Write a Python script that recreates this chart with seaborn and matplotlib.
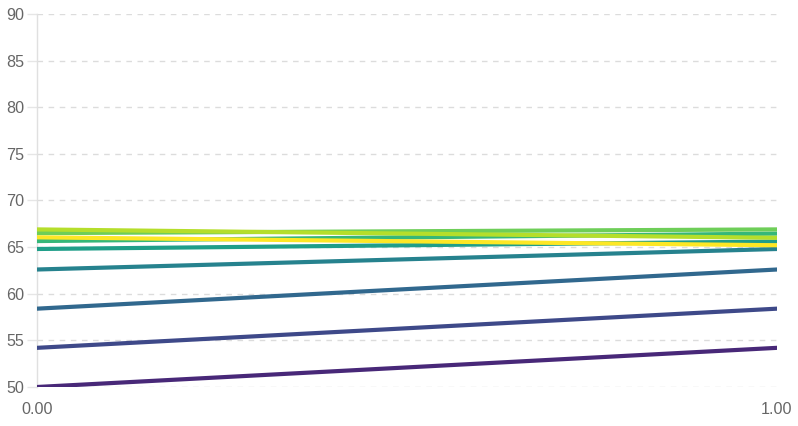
import numpy as np
import pandas as pd
import matplotlib
matplotlib.use('Agg')
import matplotlib.pyplot as plt
import seaborn as sns

# chain of values, each line goes from one value to the next
series = ['s1', 's2', 's3', 's4', 's5', 's6', 's7', 's8', 's9']
start_vals = [50.0, 54.2, 58.4, 62.6, 64.8, 65.65, 66.5, 66.9, 66.05]
end_vals = [54.2, 58.4, 62.6, 64.8, 65.6, 66.45, 66.9, 66.0, 65.2]
x_pos = [0.0, 1.0]
y_ticks = [50, 55, 60, 65, 70, 75, 80, 85, 90]

rows = []
for s, a, b in zip(series, start_vals, end_vals):
    rows.append({'series': s, 'x': x_pos[0], 'y': a})
    rows.append({'series': s, 'x': x_pos[1], 'y': b})
df = pd.DataFrame(rows)

sns.set_style('white')
plt.rcParams['font.family'] = ['Liberation Sans', 'DejaVu Sans']

fig = plt.figure(figsize=(7.98, 4.26), dpi=100)
ax = fig.add_axes([37 / 798, 1 - 387 / 426, 740 / 798, 373 / 426])

# viridis sampled in 10 steps, first step dropped
cmap = sns.color_palette('viridis', as_cmap=True)
palette = [cmap(v) for v in np.linspace(0, 1, len(series) + 1)[1:]]
sns.lineplot(data=df, x='x', y='y', hue='series', palette=palette,
             linewidth=3, legend=False, ax=ax, zorder=3)

ax.set_xlim(0, 1)
ax.set_ylim(50, 90)
ax.set_xticks(x_pos)
ax.set_xticklabels(['0.00', '1.00'])
ax.set_yticks(y_ticks)
ax.set_xlabel('')
ax.set_ylabel('')

for yv in y_ticks:
    ax.axhline(yv, color='#dcdcdc', linewidth=1, linestyle=(0, (4, 4)), zorder=1)

for sp in ['top', 'right', 'bottom']:
    ax.spines[sp].set_visible(False)
ax.spines['left'].set_color('#e0e0e0')
ax.spines['left'].set_linewidth(1)

ax.tick_params(axis='y', length=7, width=1, color='#e6e6e6', labelcolor='#666666',
               labelsize=11.6, pad=2, left=True)
ax.tick_params(axis='x', length=0, labelcolor='#666666', labelsize=11.6, pad=11)

fig.savefig('out.png', dpi=100)
